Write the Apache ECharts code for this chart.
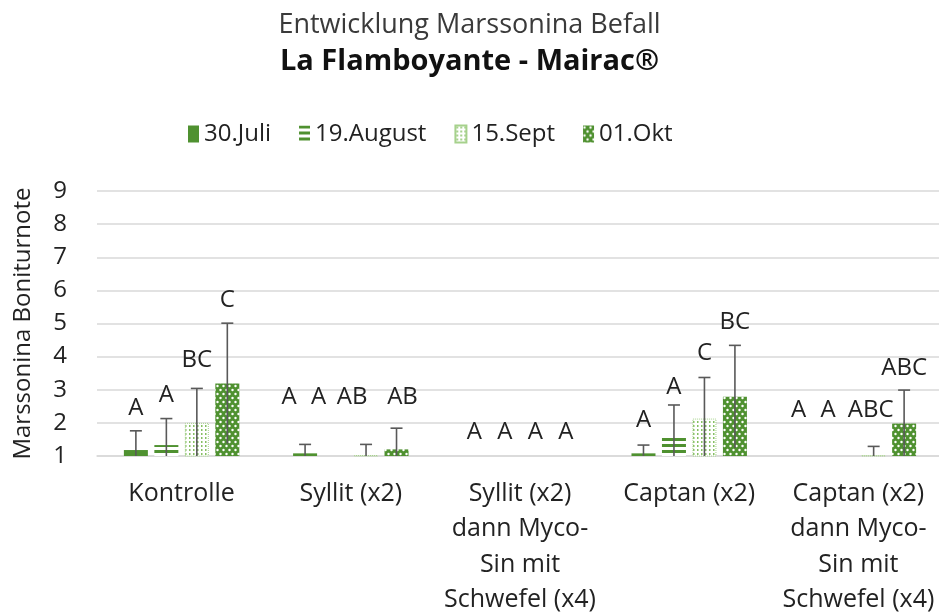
<!DOCTYPE html>
<html>
<head>
<meta charset="utf-8">
<script src="https://cdn.jsdelivr.net/npm/echarts@6.0.0/dist/echarts.min.js"></script>
<style>
  html, body { margin: 0; padding: 0; background: #fff; }
  #chart { width: 939px; height: 616px; }
</style>
</head>
<body>
<div id="chart"></div>
<script>
const categories = [
  'Kontrolle',
  'Syllit (x2)',
  'Syllit (x2)\ndann Myco-\nSin mit\nSchwefel (x4)',
  'Captan (x2)',
  'Captan (x2)\ndann Myco-\nSin mit\nSchwefel (x4)'
]
const dates = ['30.Juli', '19.August', '15.Sept', '01.Okt']

// mittlere Boniturnote je Termin
const juli = [1.18, 1.08, 1.0, 1.08, 1.0]
const august = [1.33, 1.0, 1.0, 1.56, 1.0]
const sept = [2.0, 1.03, 1.0, 2.13, 1.03]
const okt = [3.19, 1.2, 1.0, 2.79, 1.98]

// Standardabweichung (Fehlerbalken)
const juliErr = [0.58, 0.27, 0, 0.25, 0]
const augustErr = [0.8, 0, 0, 0.98, 0]
const septErr = [1.04, 0.32, 0, 1.24, 0.26]
const oktErr = [1.82, 0.64, 0, 1.55, 1.01]

// Signifikanzbuchstaben und ihre Höhe
const juliLetters = ['A', 'A', 'A', 'A', 'A']
const augustLetters = ['A', 'A', 'A', 'A', 'A']
const septLetters = ['BC', 'AB', 'A', 'C', 'ABC']
const oktLetters = ['C', 'AB', 'A', 'BC', 'ABC']
const juliLabelY = [2.45, 2.79, 1.73, 2.08, 2.39]
const augustLabelY = [2.84, 2.79, 1.73, 3.09, 2.39]
const septLabelY = [3.9, 2.79, 1.73, 4.09, 2.39]
const oktLabelY = [5.7, 2.79, 1.73, 5.05, 3.64]

const yTicks = [1, 2, 3, 4, 5, 6, 7, 8, 9]

const means = [juli, august, sept, okt]
const errs = [juliErr, augustErr, septErr, oktErr]
const letters = [juliLetters, augustLetters, septLetters, oktLetters]
const labelYs = [juliLabelY, augustLabelY, septLabelY, oktLabelY]

// seitliche Verschiebung einzelner Buchstaben (px), wie im Original von Hand gesetzt
const letterNudge = { '1-0': -16, '1-1': -17, '1-2': -14, '1-3': 6, '4-0': -14, '4-1': -15, '4-2': -3 }

const green = '#4f9130'
const font = 'Open Sans'
const barWidth = 24
const step = barWidth * 1.27

function makePattern(w, h, draw) {
  const c = document.createElement('canvas')
  c.width = w
  c.height = h
  const ctx = c.getContext('2d')
  draw(ctx)
  return { image: c, repeat: 'repeat' }
}

const stripes = makePattern(4, 6, (ctx) => {
  ctx.fillStyle = '#fff'
  ctx.fillRect(0, 0, 4, 6)
  ctx.fillStyle = green
  ctx.fillRect(0, 0, 4, 3)
})
const dots = makePattern(4, 4, (ctx) => {
  ctx.fillStyle = '#fff'
  ctx.fillRect(0, 0, 4, 4)
  ctx.fillStyle = '#86bf63'
  ctx.fillRect(1, 1, 1.5, 2)
})
const circles = makePattern(6, 8, (ctx) => {
  ctx.fillStyle = green
  ctx.fillRect(0, 0, 6, 8)
  ctx.fillStyle = '#fff'
  ctx.beginPath()
  ctx.arc(1.5, 2, 1.2, 0, Math.PI * 2)
  ctx.arc(4.5, 6, 1.2, 0, Math.PI * 2)
  ctx.fill()
})
const fills = [green, stripes, dots, circles]

const barSeries = dates.map((name, d) => ({
  name: name,
  type: 'bar',
  data: means[d],
  barWidth: barWidth,
  barGap: '27%',
  itemStyle: d === 2
    ? { color: fills[d], borderColor: '#a6d18c', borderWidth: 1, borderType: 'dotted' }
    : { color: fills[d] },
  z: 2
}))

// Fehlerbalken + Buchstaben
const errData = []
dates.forEach((_, d) => {
  categories.forEach((_, c) => {
    errData.push([c, labelYs[d][c], d])
  })
})

const errSeries = {
  type: 'custom',
  data: errData,
  encode: { x: 0, y: 1 },
  z: 5,
  silent: true,
  renderItem: function (params, api) {
    const c = api.value(0)
    const d = api.value(2)
    const mean = means[d][c]
    const err = errs[d][c]
    const x = api.coord([c, mean])[0] + (d - 1.5) * step
    const children = []
    if (err > 0) {
      const yTop = api.coord([c, mean + err])[1]
      const yBot = api.coord([c, Math.max(1, mean - err)])[1]
      const st = { stroke: '#595959', lineWidth: 1.6 }
      children.push({ type: 'line', shape: { x1: x, y1: yBot, x2: x, y2: yTop }, style: st })
      children.push({ type: 'line', shape: { x1: x - 6, y1: yTop, x2: x + 6, y2: yTop }, style: st })
    }
    children.push({
      type: 'text',
      style: {
        x: x + (letterNudge[c + '-' + d] || 0),
        y: api.coord([c, labelYs[d][c]])[1],
        text: letters[d][c],
        align: 'center',
        verticalAlign: 'middle',
        fill: '#222',
        font: '24px "' + font + '"'
      }
    })
    return { type: 'group', children: children }
  }
}

const chart = echarts.init(document.getElementById('chart'))
chart.setOption({
  animation: false,
  textStyle: { fontFamily: font },
  title: [
    {
      text: 'Entwicklung Marssonina Befall',
      left: 'center',
      top: 7,
      textStyle: { fontSize: 27, fontWeight: 'normal', color: '#3a3a3a', fontFamily: font }
    },
    {
      text: 'La Flamboyante - Mairac®',
      left: 'center',
      top: 42,
      textStyle: { fontSize: 29, fontWeight: 'bold', color: '#111', fontFamily: font }
    }
  ],
  legend: {
    data: dates,
    left: 183,
    top: 117,
    icon: 'rect',
    itemWidth: 11,
    itemHeight: 17,
    itemGap: 28,
    textStyle: { fontSize: 24, color: '#222', fontFamily: font }
  },
  grid: { left: 97, width: 846, top: 191, bottom: 160, outerBoundsMode: 'none', containLabel: false },
  xAxis: {
    type: 'category',
    data: categories,
    axisLine: { show: true, lineStyle: { color: '#d9d9d9', width: 1.5 } },
    axisTick: { show: false },
    axisLabel: {
      interval: 0,
      margin: 20,
      fontSize: 25,
      lineHeight: 35.5,
      color: '#222',
      fontFamily: font
    }
  },
  yAxis: {
    type: 'value',
    min: yTicks[0],
    max: yTicks[yTicks.length - 1],
    interval: 1,
    name: 'Marssonina Boniturnote',
    nameLocation: 'middle',
    nameGap: 62,
    nameTextStyle: { fontSize: 24, color: '#222', fontFamily: font },
    axisLine: { show: false },
    axisTick: { show: false },
    splitLine: { lineStyle: { color: '#d9d9d9', width: 1.5 } },
    axisLabel: { margin: 30, fontSize: 24, color: '#222', fontFamily: font }
  },
  series: [...barSeries, errSeries]
})
</script>
</body>
</html>
